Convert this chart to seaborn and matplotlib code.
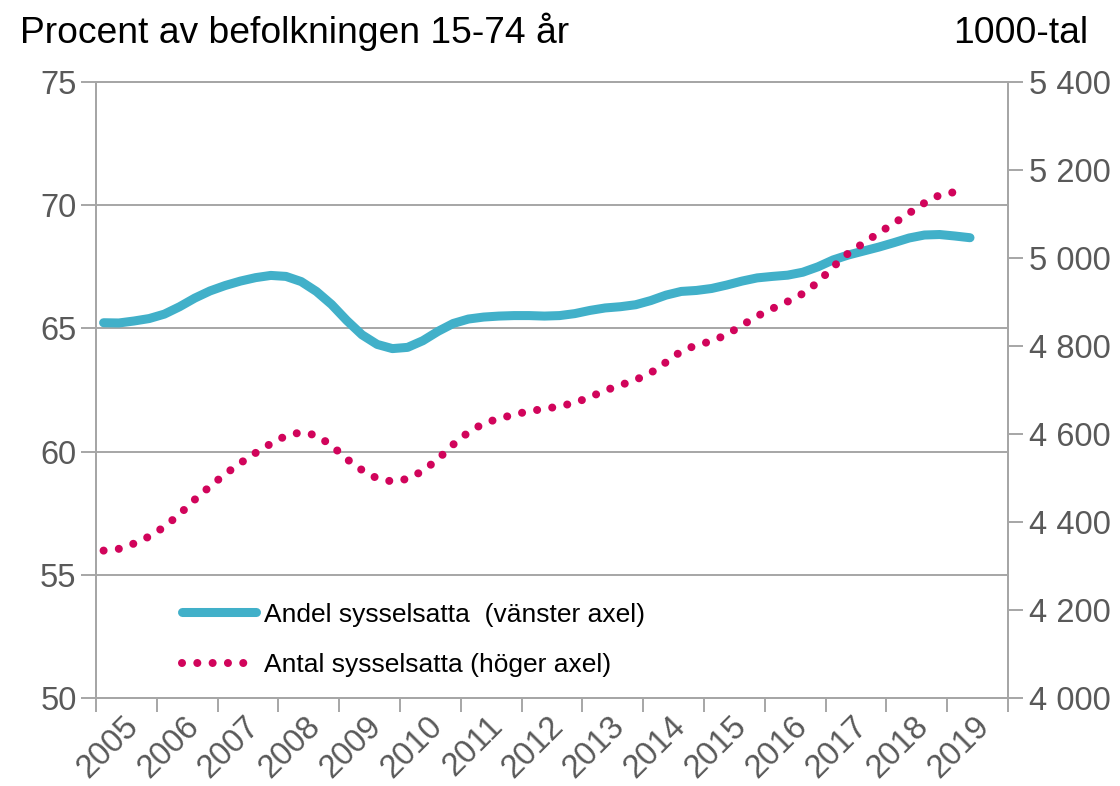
import numpy as np
import pandas as pd
import matplotlib
matplotlib.use("Agg")
import matplotlib.pyplot as plt
import matplotlib.transforms as mtransforms
import seaborn as sns
from matplotlib.ticker import FuncFormatter
from matplotlib.lines import Line2D

sns.set_theme(style="white")
plt.rcParams['font.family'] = ['Liberation Sans', 'DejaVu Sans']

# Quarterly data 2005K1 - 2019K2
years = list(range(2005, 2020))
quarters = [f"{y}K{q}" for y in years for q in range(1, 5)][:58]

# Andel sysselsatta, procent av befolkningen 15-74 år (vänster axel)
andel = [65.23, 65.22, 65.30, 65.40, 65.58, 65.88, 66.23, 66.52, 66.74, 66.92,
         67.06, 67.15, 67.11, 66.90, 66.50, 65.97, 65.32, 64.74, 64.35, 64.18,
         64.23, 64.50, 64.88, 65.20, 65.38, 65.46, 65.50, 65.52, 65.52, 65.50,
         65.52, 65.60, 65.73, 65.83, 65.88, 65.96, 66.13, 66.35, 66.50, 66.54,
         66.62, 66.76, 66.92, 67.05, 67.11, 67.16, 67.28, 67.50, 67.78, 67.98,
         68.14, 68.30, 68.48, 68.67, 68.79, 68.81, 68.75, 68.68]

# Antal sysselsatta, 1000-tal (höger axel), sista kvartalet saknas
antal = [4335, 4339, 4351, 4367, 4389, 4418, 4451, 4481, 4509, 4534,
         4557, 4578, 4596, 4604, 4597, 4574, 4543, 4518, 4499, 4492,
         4498, 4516, 4543, 4576, 4604, 4624, 4635, 4644, 4652, 4657,
         4663, 4671, 4684, 4699, 4711, 4723, 4739, 4763, 4788, 4802,
         4811, 4826, 4847, 4868, 4885, 4901, 4919, 4945, 4980, 5011,
         5034, 5057, 5079, 5102, 5125, 5143, 5150, np.nan]

df = pd.DataFrame({"kvartal": quarters, "andel": andel, "antal": antal})
df["t"] = [int(k[:4]) + (int(k[-1]) - 0.5) / 4 for k in df["kvartal"]]

cyan = "#41B0C9"
red = "#D1045B"
grey = "#A6A6A6"
txt_grey = "#595959"
dots = (0, (0.001, 1.9))

fig = plt.figure(figsize=(11.2, 7.86), dpi=100)
ax = fig.add_axes([96 / 1120, 1 - 698 / 786, 912 / 1120, 616 / 786])
ax2 = ax.twinx()

sns.lineplot(data=df, x="t", y="andel", ax=ax, color=cyan, linewidth=6.5,
             solid_capstyle="round", zorder=3)
sns.lineplot(data=df.dropna(), x="t", y="antal", ax=ax2, color=red, linewidth=5.8,
             linestyle=dots, dash_capstyle="round", zorder=3)

ax.set_xlim(2005, 2020)
ax.set_ylim(50, 75)
ax2.set_ylim(4000, 5400)
ax.set_yticks(range(50, 76, 5))
ax2.set_yticks(range(4000, 5401, 200))
ax2.yaxis.set_major_formatter(FuncFormatter(lambda v, p: f"{int(v):,}".replace(",", " ")))

ax.set_xticks(range(2005, 2021))
ax.set_xticks([y + 0.5 for y in years], minor=True)
ax.set_xticklabels([])
ax.set_xticklabels([str(y) for y in years], minor=True, rotation=45,
                   ha="right", va="center", rotation_mode="anchor")
ax.tick_params(axis="x", which="minor", length=0, pad=17, labelsize=23.5,
               labelcolor=txt_grey)
ax.tick_params(axis="x", which="major", length=10, width=1.4, color=grey,
               direction="out", bottom=True)
ax.tick_params(axis="y", length=11, width=1.4, color=grey, direction="out",
               left=True, labelsize=23.5, labelcolor=txt_grey, pad=3)
ax2.tick_params(axis="y", length=11, width=1.4, color=grey, direction="out",
                right=True, labelsize=23.5, labelcolor=txt_grey, pad=4)

# nudge the rotated year labels a little to the right
shift = mtransforms.ScaledTranslation(7 / 100, 0, fig.dpi_scale_trans)
for lab in ax.get_xticklabels(minor=True):
    lab.set_transform(lab.get_transform() + shift)

ax.set_xlabel("")
ax.set_ylabel("")
ax2.set_ylabel("")
ax.yaxis.grid(True, color=grey, linewidth=1.4)
ax.set_axisbelow(True)
for a in (ax, ax2):
    for s in a.spines.values():
        s.set_color(grey)
        s.set_linewidth(1.4)

fig.text(20 / 1120, 1 - 43 / 786, "Procent av befolkningen 15-74 år",
         fontsize=26.8, color="black", ha="left", va="baseline")
fig.text(1088 / 1120, 1 - 43 / 786, "1000-tal",
         fontsize=26.8, color="black", ha="right", va="baseline")

handles = [Line2D([], [], color=cyan, linewidth=6.5, solid_capstyle="round"),
           Line2D([], [], color=red, linewidth=5.8, linestyle=dots,
                  dash_capstyle="round")]
labels = ["Andel sysselsatta  (vänster axel)", "Antal sysselsatta (höger axel)"]
leg = ax2.legend(handles, labels, loc="upper left", bbox_to_anchor=(0.094, 0.155),
                 frameon=False, fontsize=19, handlelength=2.8, handletextpad=0.3,
                 labelspacing=1.0, borderpad=0, borderaxespad=0)
for t in leg.get_texts():
    t.set_color("black")

fig.savefig("out.png", dpi=100)
